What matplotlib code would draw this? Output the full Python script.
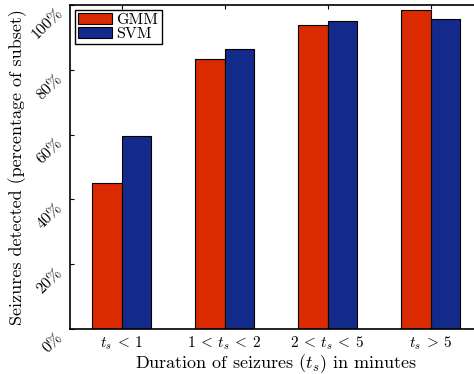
import matplotlib
matplotlib.use("Agg")
import matplotlib.pyplot as plt
import numpy as np

plt.rcParams['mathtext.fontset'] = 'cm'
plt.rcParams['font.family'] = 'cmr10'
plt.rcParams['axes.formatter.use_mathtext'] = True

categories = [r'$t_s\:<\:1$', r'$1\:<\:t_s\:<\:2$', r'$2\:<\:t_s\:<\:5$', r'$t_s\:>\:5$']
gmm = [45.0, 83.4, 93.8, 98.5]
svm = [59.5, 86.5, 95.0, 95.7]
yticks = [0, 20, 40, 60, 80, 100]
ytick_labels = [r'$0\%$', r'$20\%$', r'$40\%$', r'$60\%$', r'$80\%$', r'$100\%$']

red = '#D92A00'
blue = '#142A8A'

fig = plt.figure(figsize=(4.74, 3.74), dpi=100)
ax = fig.add_axes([70/474, 45/374, 412/474, 324/374])

x = np.arange(1, len(categories) + 1)
w = 0.285
ax.bar(x - w/2, gmm, w, color=red, edgecolor='black', linewidth=0.8, label='GMM')
ax.bar(x + w/2, svm, w, color=blue, edgecolor='black', linewidth=0.8, label='SVM')

ax.set_xlim(0.5, 4.5)
ax.set_ylim(0, 100)
ax.set_xticks(x)
ax.set_xticklabels(categories, fontsize=11)
ax.set_yticks(yticks)
ax.set_yticklabels(ytick_labels, fontsize=11.5)
for lab in ax.get_yticklabels():
    lab.set_rotation(45)
    lab.set_rotation_mode('default')
    lab.set_ha('right')
    lab.set_va('top')
ax.tick_params(direction='in', top=True, right=False, length=3, width=0.8)
ax.tick_params(axis='x', pad=4)
ax.tick_params(axis='y', pad=3)
for s in ['left', 'bottom', 'top']:
    ax.spines[s].set_linewidth(1.2)
ax.spines['right'].set_visible(False)

ax.set_xlabel(r'Duration of seizures ($t_s$) in minutes', fontsize=13)
ax.set_ylabel('Seizures detected (percentage of subset)', fontsize=13)
ax.xaxis.set_label_coords(0.5, -0.072)
ax.yaxis.set_label_coords(-0.104, 0.5)

leg = ax.legend(loc='upper left', fontsize=11.5, frameon=True, fancybox=False,
                edgecolor='black', framealpha=1, borderpad=0.2, handlelength=2.1,
                handleheight=0.65, handletextpad=0.3, labelspacing=0.0,
                borderaxespad=0.3)
leg.get_frame().set_linewidth(1.0)

fig.savefig('out.png', dpi=100)
